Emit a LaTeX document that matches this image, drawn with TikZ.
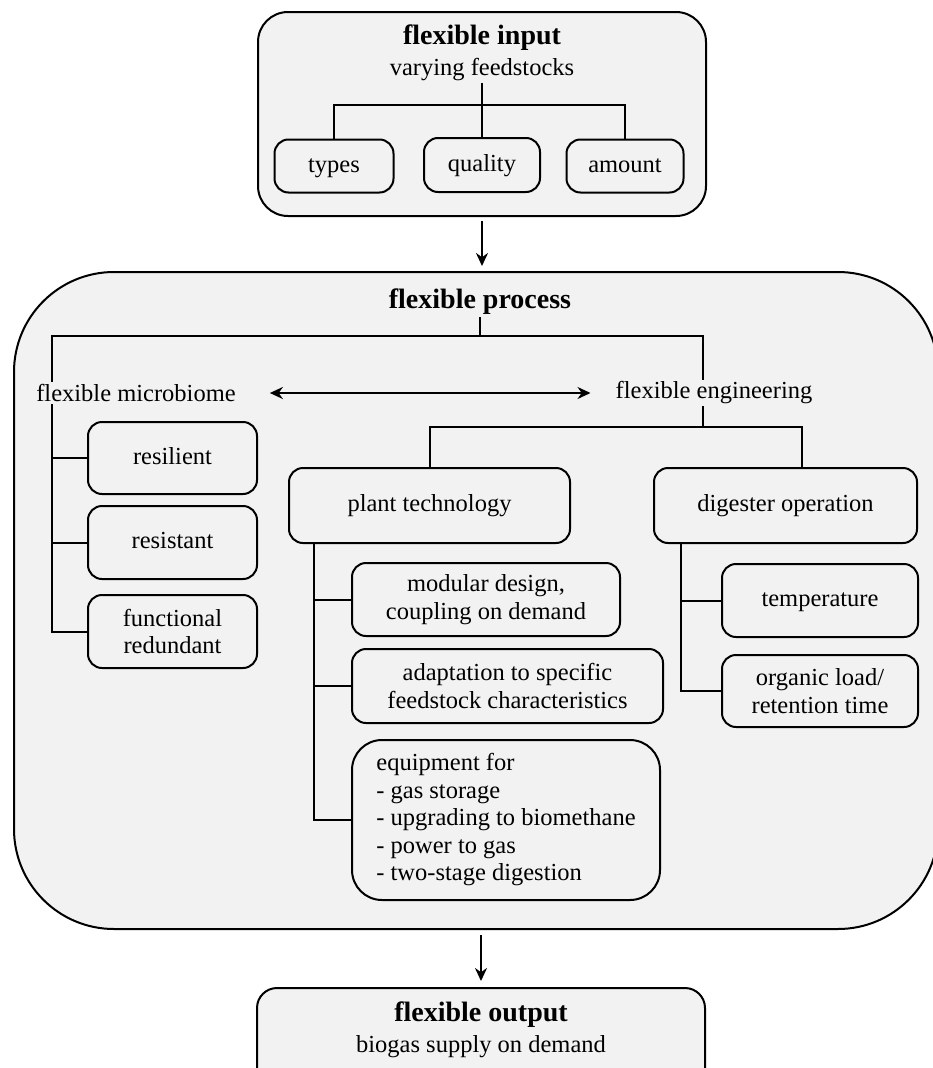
\documentclass[tikz,border=0pt]{standalone}
\usepackage{fontspec}
\setmainfont{Liberation Serif}
\usetikzlibrary{arrows.meta}
\definecolor{boxgray}{HTML}{F2F2F2}

\begin{document}
\fontsize{24.5}{27.5}\selectfont
\begin{tikzpicture}[x=1pt,y=1pt,
box/.style = {% small item boxes
    draw=black, fill=boxgray, line width=2pt, rounded corners=14pt,
    align=center, inner sep=0pt},
one/.style = {% single line, steady baseline
    text height=16pt, text depth=4pt},
panel/.style = {% large containers
    draw=black, fill=boxgray, line width=2pt, inner sep=0pt},
txt/.style = {inner sep=2pt, align=center},
ttl/.style = {inner sep=2pt, font=\fontsize{28}{30}\selectfont\bfseries},
link/.style = {line width=2pt},
flow/.style = {line width=2pt, -{Stealth[length=13pt,width=12pt]}},
                        ]
  \useasboundingbox (0,0) rectangle (933,-1068);

  % flexible input
  \node[panel, rounded corners=30pt, minimum width=448pt,
        minimum height=204pt] (input) at (482,-114) {};
  \node[ttl] (intitle) at (482,-38) {flexible input};
  \node[txt] (insub) at (482,-70) {varying feedstocks};
  \node[box, one, minimum width=119pt, minimum height=53pt] (types) at (334,-166) {types};
  \node[box, one, minimum width=116pt, minimum height=54pt] (quality) at (482,-165) {quality};
  \node[box, one, minimum width=117pt, minimum height=53pt] (amount) at (625,-166) {amount};
  \draw[link] (insub.south) -- ++(0,-22) coordinate (inbus);
  \draw[link] (types.north) |- (inbus) -| (amount.north);
  \draw[link] (inbus) -- (quality.north);

  % flexible process
  \node[panel, rounded corners=100pt, minimum width=924pt,
        minimum height=657pt] (process) at (476,-600.5) {};
  \draw[flow, shorten <=4pt, shorten >=5pt]
      (input.south) -- (input.south |- process.north);
  \node[ttl] (proctitle) at (480,-302) {flexible process};
  \node[txt] (micro) at (136,-393) {flexible microbiome};
  \node[txt] (eng) at (714,-393) {flexible engineering};
  \coordinate (mtrunk) at (52,-393);
  \draw[link] (proctitle.south) -- ++(0,-19) coordinate (pbus);
  \draw[link] (mtrunk |- micro.north) |- (pbus) -| ([xshift=-11pt]eng.north);
  \draw[link, {Stealth[length=13pt,width=12pt]}-{Stealth[length=13pt,width=12pt]}]
      ([xshift=32pt]micro.east) -- ([xshift=-23pt]eng.west);

  % microbiome
  \node[box, one, minimum width=169pt, minimum height=72pt] (resil) at (172.5,-458) {resilient};
  \node[box, one, minimum width=169pt, minimum height=73pt] (resist) at (172.5,-542.5) {resistant};
  \node[box, minimum width=169pt, minimum height=73pt] (func) at (172.5,-631.5)
      {functional\\redundant};
  \draw[link] (mtrunk |- micro.south) |- (func.west);
  \foreach \n in {resil,resist}
    \draw[link] (\n.west) -- (\n.west -| mtrunk);

  % engineering
  \node[box, one, minimum width=281pt, minimum height=75pt] (plant) at (429.5,-505.5)
      {plant technology};
  \node[box, one, minimum width=263pt, minimum height=75pt] (dig) at (785.5,-505.5)
      {digester operation};
  \draw[link] ([xshift=-11pt]eng.south) -- ++(0,-21) coordinate (ebus);
  \draw[link] (plant.north) |- (ebus) -| ([xshift=16pt]dig.north);

  % plant technology
  \node[box, minimum width=268pt, minimum height=73pt] (modular) at (486,-599.5)
      {modular design,\\coupling on demand};
  \node[box, minimum width=311pt, minimum height=74pt] (adapt) at (507.5,-686)
      {adaptation to specific\\feedstock characteristics};
  \node[box, rounded corners=30pt, align=left, minimum width=308pt,
        minimum height=160pt] (equip) at (506,-820)
      {equipment for\\- gas storage\\- upgrading to biomethane\\- power to gas\\- two-stage digestion};
  \coordinate (ptrunk) at ([xshift=26pt]plant.south west);
  \draw[link] (ptrunk) |- (equip.west);
  \foreach \n in {modular,adapt}
    \draw[link] (\n.west) -- (\n.west -| ptrunk);

  % digester operation
  \node[box, one, minimum width=196pt, minimum height=73pt] (temp) at (820,-600.5)
      {temperature};
  \node[box, minimum width=196pt, minimum height=72pt] (organic) at (820,-691)
      {organic load/\\retention time};
  \coordinate (dtrunk) at ([xshift=28pt]dig.south west);
  \draw[link] (dtrunk) |- (organic.west);
  \draw[link] (temp.west) -- (temp.west -| dtrunk);

  % flexible output
  \node[panel, rounded corners=20pt, minimum width=448pt, minimum height=110pt,
        anchor=north] (output) at (481,-987) {};
  \draw[flow, shorten <=5pt, shorten >=6pt]
      (process.south -| output.north) -- (output.north);
  \node[ttl] (outtitle) at (481,-1015) {flexible output};
  \node[txt] (outsub) at (481,-1047) {biogas supply on demand};

\end{tikzpicture}
\end{document}
